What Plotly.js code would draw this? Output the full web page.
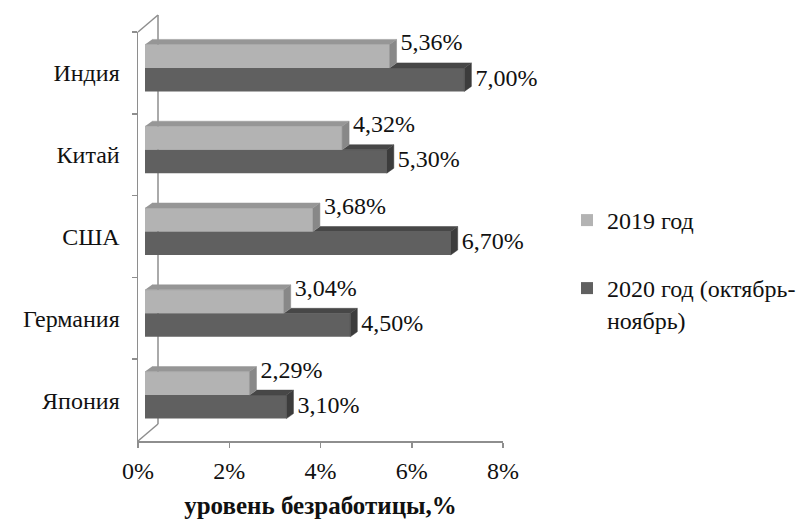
<!DOCTYPE html>
<html>
<head>
<meta charset="utf-8">
<script src="https://cdn.plot.ly/plotly-3.0.1.min.js"></script>
<style>html,body{margin:0;padding:0;background:#fff;}#chart{width:806px;height:519px;}</style>
</head>
<body>
<div id="chart"></div>
<script>
// ---- data ----
const categories = ['Индия', 'Китай', 'США', 'Германия', 'Япония'];
const values2019 = [5.36, 4.32, 3.68, 3.04, 2.29];
const values2020 = [7.00, 5.30, 6.70, 4.50, 3.10];
const seriesNames = ['2019 год', '2020 год (октябрь-<br>ноябрь)'];
const xTickVals = [0, 2, 4, 6, 8];
const xTickText = ['0%', '2%', '4%', '6%', '8%'];
const axisTitle = 'уровень безработицы,%';

// ---- geometry (pixels) ----
const W = 806, H = 519;
const M = {l: 138, r: 303, t: 32, b: 78};
const plotW = W - M.l - M.r, plotH = H - M.t - M.b;
const xMax = 8;
const kx = plotW / xMax;                 // px per %
const ky = plotH / categories.length;    // px per category
const offX = 7 / kx;      // bar front plane shift right
const offY = 5 / ky;      // bar front plane shift up
const barW = 23.5 / ky;   // bar thickness
const ddx = 7 / kx;       // depth x
const ddy = 5 / ky;       // depth y (up)
const labGap = 4 / kx;    // gap between bar and its label

const FONT = '"Liberation Serif", "Times New Roman", Times, serif';
const cLightFront = '#b3b3b3', cLightTop = '#969696', cLightSide = '#888888';
const cDarkFront = '#606060', cDarkTop = '#474747', cDarkSide = '#3c3c3c';
const fmt = v => v.toFixed(2).replace('.', ',') + '%';

const idx = categories.map((c, i) => i);

// polygons
function poly(builder) {
  const xs = [], ys = [];
  idx.forEach(i => {
    const pts = builder(i);
    pts.forEach(p => { xs.push(p[0]); ys.push(p[1]); });
    xs.push(null); ys.push(null);
  });
  return {xs, ys};
}
const lightTop = poly(i => {
  const L = values2019[i], yt = i - offY - barW;
  return [[offX, yt], [offX + L, yt], [offX + L + ddx, yt - ddy], [offX + ddx, yt - ddy]];
});
const lightSide = poly(i => {
  const L = values2019[i], yt = i - offY - barW, yb = i - offY;
  return [[offX + L, yt], [offX + L, yb], [offX + L + ddx, yb - ddy], [offX + L + ddx, yt - ddy]];
});
const darkTop = poly(i => {
  const L = values2019[i], D = values2020[i], yt = i - offY;
  return [[offX + L, yt], [offX + D, yt], [offX + D + ddx, yt - ddy], [offX + L + ddx, yt - ddy]];
});
const darkSide = poly(i => {
  const D = values2020[i], yt = i - offY, yb = i - offY + barW;
  return [[offX + D, yt], [offX + D, yb], [offX + D + ddx, yb - ddy], [offX + D + ddx, yt - ddy]];
});

function face(p, color) {
  return {
    type: 'scatter', mode: 'lines', x: p.xs, y: p.ys, xaxis: 'x2', yaxis: 'y2',
    fill: 'toself', fillcolor: color, line: {width: 0.5, color: color},
    hoverinfo: 'skip', showlegend: false
  };
}

const traces = [
  {
    type: 'bar', orientation: 'h', name: seriesNames[0], legend: 'legend',
    y: categories, x: values2019, base: offX, offset: -offY - barW, width: barW,
    marker: {color: cLightFront, line: {width: 0}}, hoverinfo: 'skip'
  },
  {
    type: 'bar', orientation: 'h', name: seriesNames[1], legend: 'legend2',
    y: categories, x: values2020, base: offX, offset: -offY, width: barW,
    marker: {color: cDarkFront, line: {width: 0}}, hoverinfo: 'skip'
  },
  face(darkTop, cDarkTop),
  face(darkSide, cDarkSide),
  face(lightTop, cLightTop),
  face(lightSide, cLightSide),
  {
    type: 'scatter', mode: 'text', xaxis: 'x2', yaxis: 'y2',
    x: values2019.map(v => offX + v + ddx + labGap), y: idx.map(i => i - offY - barW),
    text: values2019.map(fmt), textposition: 'middle right',
    textfont: {family: FONT, size: 24, color: '#111'}, hoverinfo: 'skip', showlegend: false, cliponaxis: false
  },
  {
    type: 'scatter', mode: 'text', xaxis: 'x2', yaxis: 'y2',
    x: values2020.map(v => offX + v + ddx + labGap), y: idx.map(i => i - offY + barW / 2),
    text: values2020.map(fmt), textposition: 'middle right',
    textfont: {family: FONT, size: 24, color: '#111'}, hoverinfo: 'skip', showlegend: false, cliponaxis: false
  }
];

// frame (back wall) lines in paper coords
const px2x = px => (px - M.l) / plotW;
const px2y = py => (H - M.b - py) / plotH;
const wdx = 20, wdy = 17;
const lineStyle = {color: '#8e8e8e', width: 1.5};
const shapes = [
  {type: 'line', xref: 'paper', yref: 'paper', layer: 'below',
   x0: px2x(M.l), y0: px2y(H - M.b), x1: px2x(M.l + wdx), y1: px2y(H - M.b - wdy), line: lineStyle},
  {type: 'line', xref: 'paper', yref: 'paper', layer: 'below',
   x0: px2x(M.l + wdx), y0: px2y(H - M.b - wdy), x1: px2x(M.l + wdx), y1: px2y(M.t - wdy), line: lineStyle},
  {type: 'line', xref: 'paper', yref: 'paper', layer: 'below',
   x0: px2x(M.l), y0: px2y(M.t), x1: px2x(M.l + wdx), y1: px2y(M.t - wdy), line: lineStyle}
];

const n = categories.length;
const layout = {
  width: W, height: H, margin: M,
  paper_bgcolor: '#fff', plot_bgcolor: 'rgba(0,0,0,0)',
  barmode: 'overlay', showlegend: true,
  font: {family: FONT, size: 24, color: '#111'},
  xaxis: {
    range: [0, xMax], tickmode: 'array', tickvals: xTickVals, ticktext: xTickText,
    showgrid: false, zeroline: false, showline: true, linecolor: '#8e8e8e', linewidth: 1.5,
    ticks: 'outside', ticklen: 5, tickcolor: '#8e8e8e', tickwidth: 1.5, ticklabelstandoff: 3,
    tickfont: {family: FONT, size: 24, color: '#111'},
    title: {text: '<b>' + axisTitle + '</b>', font: {family: FONT, size: 25, color: '#111'}, standoff: 16},
    automargin: false, fixedrange: true
  },
  yaxis: {
    type: 'category', categoryorder: 'array', categoryarray: categories,
    range: [n - 0.5, -0.5], tickson: 'boundaries',
    showgrid: false, zeroline: false, showline: true, linecolor: '#8e8e8e', linewidth: 1.5,
    ticks: 'outside', ticklen: 5, tickcolor: '#8e8e8e', tickwidth: 1.5, ticklabelstandoff: 12,
    tickfont: {family: FONT, size: 24, color: '#111'}, automargin: false, fixedrange: true
  },
  xaxis2: {overlaying: 'x', range: [0, xMax], visible: false, fixedrange: true},
  yaxis2: {overlaying: 'y', range: [n - 0.5, -0.5], visible: false, fixedrange: true},
  legend: {
    xref: 'container', yref: 'container', x: 567 / W, y: 1 - 198 / H, xanchor: 'left', yanchor: 'top',
    font: {family: FONT, size: 24, color: '#111'}, bgcolor: 'rgba(0,0,0,0)', itemclick: false, itemdoubleclick: false
  },
  legend2: {
    xref: 'container', yref: 'container', x: 567 / W, y: 1 - 266 / H, xanchor: 'left', yanchor: 'top', valign: 'top',
    font: {family: FONT, size: 24, color: '#111'}, bgcolor: 'rgba(0,0,0,0)', itemclick: false, itemdoubleclick: false
  },
  shapes: shapes
};

Plotly.newPlot('chart', traces, layout, {displayModeBar: false, staticPlot: true});
</script>
</body>
</html>
